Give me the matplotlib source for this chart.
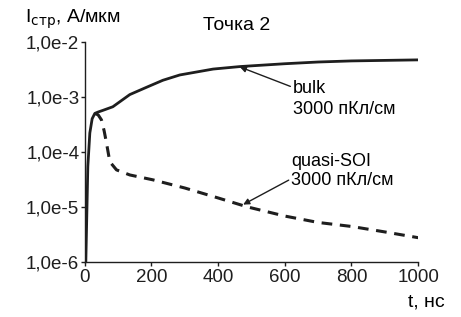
import matplotlib
matplotlib.use("Agg")
import matplotlib.pyplot as plt
from matplotlib.ticker import FixedLocator, NullLocator

matplotlib.rcParams['font.family'] = ['Liberation Sans', 'DejaVu Sans']
matplotlib.rcParams['font.size'] = 13

# bulk, 3000 pC/cm
t_bulk = [3, 9, 15, 22, 30, 40, 55, 84, 135, 186, 234, 285, 385, 465, 600, 700, 800, 900, 1000]
i_bulk = [1e-6, 5.4e-5, 2.2e-4, 4e-4, 5e-4, 5.3e-4, 5.7e-4, 6.6e-4, 1.1e-3, 1.5e-3,
          2.0e-3, 2.5e-3, 3.2e-3, 3.55e-3, 4.0e-3, 4.3e-3, 4.5e-3, 4.6e-3, 4.7e-3]

# quasi-SOI, 3000 pC/cm
t_soi = [30, 40, 50, 58, 65, 75, 95, 135, 204, 300, 400, 487, 600, 700, 800, 900, 1000]
i_soi = [5e-4, 4.7e-4, 3.8e-4, 2.4e-4, 1.45e-4, 6.6e-5, 4.7e-5, 3.8e-5, 3.1e-5,
         2.2e-5, 1.45e-5, 1.0e-5, 6.8e-6, 5.2e-6, 4.4e-6, 3.5e-6, 2.75e-6]

y_ticks = [1e-6, 1e-5, 1e-4, 1e-3, 1e-2]
y_labels = ["1,0e-6", "1,0e-5", "1,0e-4", "1,0e-3", "1,0e-2"]
x_ticks = [0, 200, 400, 600, 800, 1000]

clr = '#1e1e1e'

fig = plt.figure(figsize=(4.61, 3.17), dpi=100)
ax = fig.add_axes([0.184, 0.174, 0.723, 0.694])

ax.plot(t_bulk, i_bulk, color=clr, lw=2.0, solid_capstyle='round')
ax.plot(t_soi, i_soi, color=clr, lw=2.2, ls=(0, (3.5, 2.5)))

ax.set_yscale('log')
ax.set_ylim(1e-6, 1e-2)
ax.set_xlim(0, 1000)
ax.yaxis.set_major_locator(FixedLocator(y_ticks))
ax.yaxis.set_minor_locator(NullLocator())
ax.set_yticklabels(y_labels)
ax.set_xticks(x_ticks)

for s in ['top', 'right']:
    ax.spines[s].set_visible(False)
for s in ['left', 'bottom']:
    ax.spines[s].set_linewidth(1.0)
    ax.spines[s].set_color(clr)
ax.tick_params(axis='both', direction='out', length=3, width=1, colors=clr, labelsize=13.5)
ax.tick_params(axis='y', pad=1)
ax.tick_params(axis='x', pad=2)

ax.annotate("bulk\n3000 пКл/см", xy=(465, 3.5e-3), xytext=(625, 9.2e-4),
            fontsize=13, ha='left', va='center', linespacing=1.3,
            arrowprops=dict(arrowstyle='-|>', color=clr, lw=1.0, mutation_scale=9,
                            shrinkA=0, shrinkB=0, relpos=(0, 0.8)))
ax.annotate("quasi-SOI\n3000 пКл/см", xy=(475, 1.1e-5), xytext=(620, 4.4e-5),
            fontsize=13, ha='left', va='center', linespacing=1.15,
            arrowprops=dict(arrowstyle='-|>', color=clr, lw=1.0, mutation_scale=9,
                            shrinkA=0, shrinkB=0, relpos=(0, 0.3)))

fig.text(0.44, 0.92, "Точка 2", fontsize=14, ha='left', va='center')
fig.text(0.055, 0.94, "I$_{\\rm стр}$, А/мкм", fontsize=14, ha='left', va='center')
fig.text(0.885, 0.048, "t, нс", fontsize=14, ha='left', va='center')

fig.savefig("out.png", dpi=100)
